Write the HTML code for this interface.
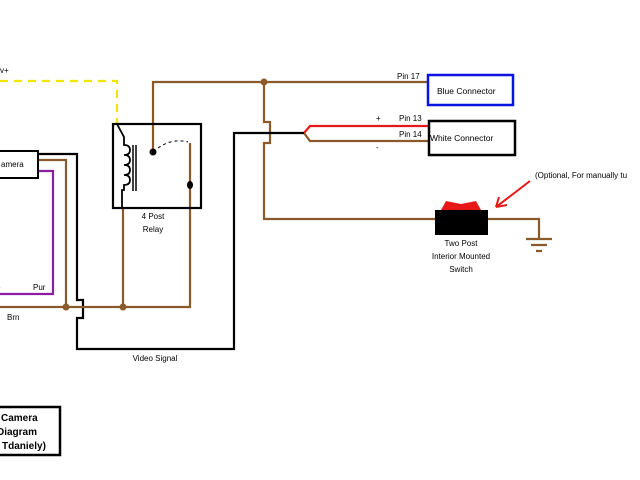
<!DOCTYPE html>
<html><head><style>
html,body{margin:0;padding:0;background:#fff;}
svg{display:block;font-family:"Liberation Sans",sans-serif;}
</style></head><body>
<svg width="640" height="480" viewBox="0 0 640 480" xmlns="http://www.w3.org/2000/svg">
<rect width="640" height="480" fill="#fff"/>
<g fill="none" stroke-width="2.2">
<!-- yellow dashed -->
<path d="M0 81 H117 V124" stroke="#f2e600" stroke-dasharray="8,6"/>
<!-- brown top -->
<path d="M153 150 V82 H428" stroke="#8b5a2b"/>
<path d="M264 82 V122 H270 V143 H264 V219 H436" stroke="#8b5a2b"/>
<path d="M488 219 H539 V238" stroke="#8b5a2b"/>
<!-- ground -->
<path d="M526 239 H552 M531 245 H547 M536 251 H542" stroke="#8b5a2b"/>
<!-- fork -->
<path d="M304 133 L310 126 H428" stroke="#e81818"/>
<path d="M304 133 L310 141 H428" stroke="#8b5a2b"/>
<!-- black video -->
<path d="M304 133 H234 V349 H77 V318 H83 V300 H77 V154 H38" stroke="#000"/>
<!-- camera brown and purple -->
<path d="M38 160 H66 V307" stroke="#8b5a2b"/>
<path d="M38 171 H53 V294 H0" stroke="#8a1e9e"/>
<path d="M0 307 H190 V143" stroke="#8b5a2b"/>
<path d="M123 208 V307" stroke="#8b5a2b"/>
<!-- relay -->
<rect x="113" y="124" width="88" height="84" stroke="#000"/>
<path d="M117 124 L124 137 V145 q6 0 6 5 q0 5 -6 5 q6 0 6 5 q0 5 -6 5 q6 0 6 5 q0 5 -6 5 q6 0 6 5 q0 5 -6 5 V190 H122 V208" stroke="#000" stroke-width="1.8"/>
<path d="M133 145 V191 M136 145 V191" stroke="#000" stroke-width="1.5"/>
<path d="M158 148 Q172 138 188 142" stroke="#000" stroke-width="1" stroke-dasharray="3,3"/>
<!-- connectors -->
<rect x="428" y="75" width="85" height="30" stroke="#0a14e0" stroke-width="2.5"/>
<rect x="429" y="121" width="86" height="34" stroke="#000" stroke-width="2.5"/>
<rect x="-5" y="151" width="43" height="27" stroke="#000" stroke-width="2"/>
<rect x="-5" y="407" width="65" height="48" stroke="#000" stroke-width="2.5"/>
<!-- red arrow -->
<path d="M530 181 L496 207 M496 207 L499 197 M496 207 L507 205" stroke="#e81818" stroke-width="2"/>
</g>
<g fill="#000">
<circle cx="153" cy="152" r="3.5"/>
<ellipse cx="190" cy="185" rx="3" ry="4"/>
</g>
<g fill="#8b5a2b">
<circle cx="264" cy="82" r="3.5"/><circle cx="66" cy="307" r="3.5"/><circle cx="123" cy="307" r="3.5"/>
</g>
<!-- switch -->
<path d="M441 210 L446 201 L461 204 L476 201 L481 210 Z" fill="#e81818"/>
<rect x="435" y="210" width="53" height="25" fill="#000"/>
<g font-size="8" fill="#000">
<text x="0" y="73">v+</text>
<text x="397" y="79">Pin 17</text>
<text x="437" y="94" font-size="8.5">Blue Connector</text>
<text x="376" y="121">+</text>
<text x="399" y="121">Pin 13</text>
<text x="399" y="137">Pin 14</text>
<text x="376" y="150">-</text>
<text x="430" y="141" font-size="8.5">White Connector</text>
<text x="535" y="178">(Optional, For manually tu</text>
<text x="461" y="246" text-anchor="middle">Two Post</text>
<text x="461" y="259" text-anchor="middle">Interior Mounted</text>
<text x="461" y="272" text-anchor="middle">Switch</text>
<text x="153" y="219" text-anchor="middle">4 Post</text>
<text x="153" y="232" text-anchor="middle">Relay</text>
<text x="1" y="167">amera</text>
<text x="33" y="290">Pur</text>
<text x="-4" y="290">o</text>
<text x="7" y="320">Brn</text>
<text x="155" y="361" text-anchor="middle">Video Signal</text>
</g>
<g font-size="10" font-weight="bold" fill="#000">
<text x="1" y="421">Camera</text>
<text x="-3" y="435">Diagram</text>
<text x="2" y="449">Tdaniely)</text>
</g>
</svg>
</body></html>
